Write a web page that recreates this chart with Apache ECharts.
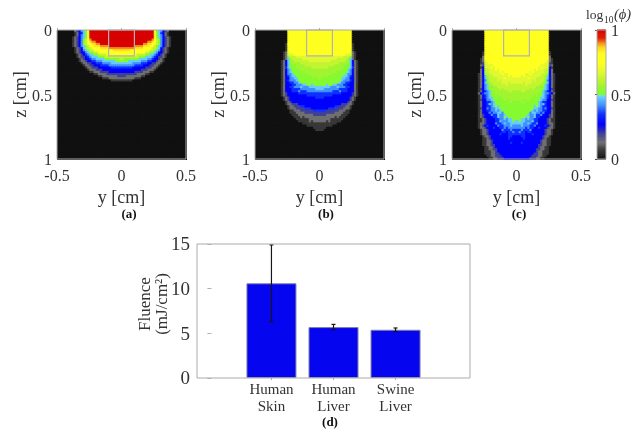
<!DOCTYPE html>
<html><head><meta charset="utf-8">
<style>html,body{margin:0;padding:0;background:#fff}#c{width:634px;height:429px}</style>
<script src="https://cdn.jsdelivr.net/npm/echarts@6/dist/echarts.min.js"></script>
</head><body><div id="c"></div>
<script>
// Log-fluence levels
const levelNames  = 'ABCDEFGHIJKLMNO';
const levelValues = [.07,.13,.2,.27,.35,.42,.48,.52,.57,.62,.67,.75,.85,.9,1];
// Each row is one depth step (1/60 cm) from the surface; runs of level+count go outward from y=0.
const rowsA = ['O15 L1 H1 G1 F1 D1 C1 B1','O15 L1 H1 G1 E1 D1 B1 A1','O15 L1 H1 G1 F1 D1 B1 A1','O15 L1 H1 G1 F1 D1 C1 B1 A1','O14 N1 L1 J1 H1 F1 D1 C1 B1 A1','O12 N2 M1 L1 J1 H1 F1 D1 C1 B1 A1','O10 N2 M2 L2 J1 H1 F1 D1 C1 B1 A1','O6 N4 M3 L2 J1 H1 G1 F1 D1 C1 B1 A1','N6 M4 L4 J2 H1 G1 D1 C1 B1 A1','M4 L9 J2 H1 G1 F1 D1 C1 B1 A1','L11 J2 H2 G1 F1 D2 C1 B1 A1','L7 J4 H2 G2 F1 E1 D1 C1 B1 A1','J8 H3 G3 F1 E1 D1 C2 B1 A1','J1 H7 G4 F2 E1 D2 C1 B1 A1','H3 G6 F3 E2 D2 C1 B2 A1','G5 F4 E3 D2 C2 B2 A1','F6 E4 D3 C2 B2 A1','E5 D6 C3 B2 A1','D9 C3 B3 A1','D6 C4 B3 A2','C7 B4 A2','C2 B7 A2','B6 A3','A5'];
const rowsB = ['L15','L15','L15','L15','L15','L15','L15 A1','L15 A1','L15 A1','L15 A1','L14 K1 B1 A1','L12 K3 B1 A1','K11 J3 H1 B1 A1','K8 J5 H1 G1 B1 A1','K5 J7 I2 G1 D1 B1 A1','J9 I4 H1 G1 D1 B1 A1','J7 I4 H3 G1 D1 B1 A1','J4 I7 H3 G1 E1 B1 A1','I10 H3 G1 F1 D1 B1 A1','I8 H5 G1 F1 D1 B1 A1','I6 H6 G1 F2 D1 B1 A1','I4 H7 G2 F1 E1 D1 B1 A1','I1 H9 G2 F2 D2 B1 A1','H10 G1 F3 E1 D1 B1 A1','H9 G1 F2 E2 D2 B1 A1','H3 G1 H2 G2 F3 E2 D3 B1 A1','G5 F3 G1 F3 E2 D2 B1 A1','G2 F7 E4 D3 B1 A1','F6 E3 F1 E3 D3 B1 A1','E10 D5 C1 B1 A1','E6 D9 C1 B1 A1','E2 D12 C1 B1 A1','D14 C1 B1 A1','D13 C1 B1 A1','D10 C3 B2 A1','D7 E2 C3 B2 A1','D4 E3 C4 B3 A1','E3 C6 B3 A2','C7 B4 A3','C3 B7 A3','B7 A1 B1 A3','B5 A6','B3 A1 B1 A5','A8','A6','A3','A2'];
const rowsC = ['L15','L15','L15','L15','L15','L15','L15','L15','L15','L15','L15 A1','L15 A1','L15 B1','L15 B1 A1','L14 K1 B1 A1','L13 K2 C1 A1','L11 K4 C1 B1','L10 K1 L1 K3 D1 A1','L8 K1 L1 K3 J2 D1 B1','L6 K1 L1 K5 J2 D1 B1','L4 K2 L1 K5 J2 I1 D1 B1 A1','L2 K1 L1 K7 J2 I1 G1 D1 B1 A1','K5 L1 K3 J4 I1 G1 D1 B1 A1','K7 J1 K1 J4 H1 F1 D1 B1 A1','K3 J1 K3 J5 I1 H1 G1 D1 B1 A1','J4 K1 J6 I2 G1 F1 D1 B1 A1','J9 I2 H2 G1 F1 D1 B1 A1','J6 I1 J1 I4 H1 G1 F1 D1 C1 A1','I2 J2 I7 H1 G1 F1 E1 D1 B1 A1','I10 H2 G1 F2 E1 D1 B1','I8 H1 I1 H2 G1 F1 E1 D1 B1 A1','I7 H4 G2 F1 E1 D1 B1 A1','I3 H1 I2 H5 G1 F2 D2 C1 A1','H2 I2 H6 G1 F1 E2 D2 B1 A1','H10 G1 F1 G1 E1 D2 B1 A1','H8 G1 H1 G1 F1 E2 D2 B1 A1','H8 G2 F2 E1 F1 D2 C1 A1','H7 G1 F1 G1 F2 E2 D2 B1 A1','H6 F1 G2 F2 E1 F1 D3 B1 A1','H5 G1 F2 G1 E2 F1 D3 C1 B1 A1','H4 G1 H1 F2 G1 E2 D4 C1 B1 A1','H2 G2 F1 G1 F2 E2 D4 C1 B1 A2','G1 H1 G2 F3 G1 E2 D4 C1 B1 A2','G3 F2 G1 F1 E2 F1 D4 C1 B2 A1','F2 G1 F3 E2 F1 D4 E1 D1 C1 B1 A1','F4 E1 F1 E2 D2 E1 D3 C1 B2 A1','E2 F1 E3 F1 D6 C1 B2 A1','E1 F1 E2 D1 E2 D6 C1 B2 A1','E4 D3 E1 D5 C1 B2 A1','D2 E2 D8 C1 B2 A1','D3 E1 D8 C1 B1 A2','D11 C1 B2 A2','D2 E1 D8 C1 B2 A2','D10 C2 B2 A2','D10 C1 B2 A2','D9 C2 B2 A2','D9 C1 B2 A3','D8 C2 B2 A3','D7 C3 B2 A2','D6 C3 B2 A2'];
const panelRows = [rowsA, rowsB, rowsC];
const panelTags = ['(a)','(b)','(c)'];
const roi = [-0.1, 0, 0.1, 0.2];
const colourStops = [[0,'#111111'],[.07,'#383838'],[.13,'#707070'],[.2,'#404098'],[.27,'#0000ff'],[.35,'#1030ff'],[.42,'#4090ff'],[.495,'#70d8ff'],[.5,'#7cfc30'],[.57,'#a0f530'],[.62,'#c0f530'],[.67,'#e0f830'],[.75,'#ffff20'],[.82,'#ffff20'],[.87,'#ffd020'],[.9,'#f09020'],[.94,'#e02000'],[1,'#d80000']];

// Bar panel
const barNames  = ['Human\nSkin','Human\nLiver','Swine\nLiver'];
const barPos    = [1,2,3];
const barValues = [10.6,5.7,5.4];
const barLow    = [6.3,5.4,5.2];
const barHigh   = [14.9,6.0,5.6];

const N = 60;
const idx = Array.from({length:N},(_,i)=>i);
function cells(rows){
  const out=[];
  idx.forEach(r=>{
    const half=new Array(N/2).fill(0);
    let c=0;
    ((rows[r]||'').match(/[A-O]\d+/g)||[]).forEach(t=>{
      const v=levelValues[levelNames.indexOf(t[0])];
      for(let k=0,n=+t.slice(1);k<n&&c<N/2;k++) half[c++]=v;
    });
    idx.forEach(i=>{
      const h=i<N/2?N/2-1-i:i-N/2;
      out.push([i/N-0.5,r/N,half[h]]);
    });
  });
  return out;
}
function hex(c){return [1,3,5].map(i=>parseInt(c.substr(i,2),16));}
function colourAt(t){
  for(let i=1;i<colourStops.length;i++){
    const [a,ca]=colourStops[i-1],[b,cb]=colourStops[i];
    if(t<=b){const f=(t-a)/(b-a),x=hex(ca),y=hex(cb);
      return 'rgb('+x.map((v,j)=>Math.round(v+(y[j]-v)*f)).join(',')+')';}
  }
  return colourStops[colourStops.length-1][1];
}
const ramp=Array.from({length:201},(_,i)=>colourAt(i/200));

const font='"Liberation Serif","Times New Roman",serif', ink='#333', edge='#ababab';
const lefts=[57,255,452];
const tagCentres=[129,326,519];
const grid=[],xAxis=[],yAxis=[],series=[],title=[];
lefts.forEach((left,k)=>{
  grid.push({left,top:30,width:129,height:129,show:true,backgroundColor:'transparent',borderColor:edge,borderWidth:1,z:10});
  xAxis.push({gridIndex:k,type:'value',min:-0.5,max:0.5,interval:0.5,position:'bottom',name:'y [cm]',nameLocation:'middle',nameGap:30,nameMoveOverlap:false,
    nameTextStyle:{fontFamily:font,fontSize:18,color:ink},splitLine:{show:false},axisLine:{show:false},
    axisTick:{inside:true,length:2,lineStyle:{color:edge}},axisLabel:{fontFamily:font,fontSize:16,color:ink,margin:10,hideOverlap:false,showMinLabel:true,showMaxLabel:true}});
  yAxis.push({gridIndex:k,type:'value',min:0,max:1,interval:0.5,inverse:true,position:'left',name:'z [cm]',nameLocation:'middle',nameGap:27,nameMoveOverlap:false,
    nameTextStyle:{fontFamily:font,fontSize:18,color:ink},splitLine:{show:false},axisLine:{show:false},
    axisTick:{inside:true,length:2,lineStyle:{color:edge}},axisLabel:{fontFamily:font,fontSize:16,color:ink,margin:5,verticalAlign:'top',lineHeight:4,hideOverlap:false,showMinLabel:true,showMaxLabel:true}});
  series.push({type:'custom',xAxisIndex:k,yAxisIndex:k,data:cells(panelRows[k]),silent:true,animation:false,progressive:0,
    encode:{x:0,y:1},
    renderItem:(p,api)=>{
      const a=api.coord([api.value(0),api.value(1)]),b=api.coord([api.value(0)+1/N,api.value(1)+1/N]);
      return {type:'rect',shape:{x:a[0],y:a[1],width:b[0]-a[0]+1,height:b[1]-a[1]+1},style:{fill:api.visual('color')}};
    }});
  title.push({text:panelTags[k],left:tagCentres[k],top:208,padding:0,textAlign:'center',textStyle:{fontFamily:font,fontSize:13,fontWeight:'bold',color:'#111'}});
});
lefts.forEach((left,k)=>{
  series.push({type:'custom',xAxisIndex:k,yAxisIndex:k,data:[roi],silent:true,clip:false,z:5,
    renderItem:(p,api)=>{
      const a=api.coord([api.value(0),api.value(1)]),b=api.coord([api.value(2),api.value(3)]);
      return {type:'rect',shape:{x:a[0],y:a[1],width:b[0]-a[0],height:b[1]-a[1]},style:{fill:'none',stroke:'#b2b2b2',lineWidth:1.2}};
    }});
});
// colour bar
grid.push({left:597,top:30,width:12,height:129,show:true,backgroundColor:'transparent',borderColor:edge,borderWidth:1,z:10});
xAxis.push({gridIndex:3,type:'value',min:0,max:1,show:false});
yAxis.push({gridIndex:3,type:'value',min:0,max:1,interval:0.5,position:'right',splitLine:{show:false},axisLine:{show:false},
  axisTick:{inside:true,length:2,lineStyle:{color:'#555'}},axisLabel:{fontFamily:font,fontSize:16,color:ink,margin:5,verticalAlign:'top',lineHeight:4,hideOverlap:false,showMinLabel:true,showMaxLabel:true}});
// bar panel
grid.push({left:197,top:244,width:273,height:134,show:true,backgroundColor:'transparent',borderColor:edge,borderWidth:1,z:10});
xAxis.push({gridIndex:4,type:'value',min:-0.2,max:4.2,position:'bottom',splitLine:{show:false},axisLine:{show:false},
  axisTick:{inside:true,length:2,customValues:barPos,lineStyle:{color:edge}},
  axisLabel:{customValues:barPos,formatter:v=>barNames[barPos.indexOf(v)]||'',fontFamily:font,fontSize:15,lineHeight:17,color:ink,margin:4,hideOverlap:false}});
xAxis.push({gridIndex:4,type:'value',min:-0.2,max:4.2,position:'top',splitLine:{show:false},axisLine:{show:false},
  axisTick:{inside:true,length:2,customValues:barPos,lineStyle:{color:edge}},axisLabel:{show:false}});
yAxis.push({gridIndex:4,type:'value',min:0,max:15,interval:5,position:'left',splitLine:{show:false},axisLine:{show:false},
  axisTick:{inside:true,length:2,lineStyle:{color:edge}},axisLabel:{fontFamily:font,fontSize:19,color:ink,margin:7,verticalAlign:'top',lineHeight:3,hideOverlap:false,showMinLabel:true,showMaxLabel:true}});
yAxis.push({gridIndex:4,type:'value',min:0,max:15,interval:5,position:'right',splitLine:{show:false},axisLine:{show:false},
  axisTick:{inside:true,length:2,lineStyle:{color:edge}},axisLabel:{show:false}});
series.push({type:'bar',xAxisIndex:4,yAxisIndex:4,barWidth:50,silent:true,data:barPos.map((x,i)=>[x,barValues[i]]),
  itemStyle:{color:'#0505f0',borderColor:'#8080a8',borderWidth:1}});
series.push({type:'custom',xAxisIndex:4,yAxisIndex:4,silent:true,z:5,data:barPos.map((x,i)=>[x,barLow[i],barHigh[i]]),
  renderItem:(p,api)=>{
    const a=api.coord([api.value(0),api.value(1)]),b=api.coord([api.value(0),api.value(2)]);
    const st={stroke:'#151515',lineWidth:1.2},cap=2;
    return {type:'group',children:[
      {type:'line',shape:{x1:a[0],y1:a[1],x2:b[0],y2:b[1]},style:st},
      {type:'line',shape:{x1:a[0]-cap,y1:a[1],x2:a[0]+cap,y2:a[1]},style:st},
      {type:'line',shape:{x1:b[0]-cap,y1:b[1],x2:b[0]+cap,y2:b[1]},style:st}]};
  }});
// colour bar ramp: one rect per scale step, coloured by the same visual map
series.push({type:'custom',xAxisIndex:3,yAxisIndex:3,silent:true,data:ramp.map((_,i)=>[0,i/200,i/200]),
  renderItem:(p,api)=>{
    const a=api.coord([0,api.value(1)+0.005]),b=api.coord([1,api.value(1)-0.005]);
    return {type:'rect',shape:{x:a[0],y:a[1],width:b[0]-a[0],height:b[1]-a[1]},style:{fill:api.visual('color')}};
  }});
title.push({text:'(d)',left:330,top:416,padding:0,textAlign:'center',textStyle:{fontFamily:font,fontSize:13,fontWeight:'bold',color:'#111'}});

const chart=echarts.init(document.getElementById('c'),null,{renderer:'canvas'});
chart.setOption({animation:false,backgroundColor:'#fff',title,grid,xAxis,yAxis,series,
  visualMap:{type:'continuous',min:0,max:1,dimension:2,seriesIndex:[0,1,2,8],inRange:{color:ramp},show:false},
  graphic:[
    {type:'text',x:154,y:304,rotation:Math.PI/2,style:{text:'Fluence\n(mJ/cm\u00b2)',fontFamily:font,fontSize:17,lineHeight:17,fill:ink,textAlign:'center',textVerticalAlign:'middle'}},
    {type:'text',x:586,y:15,style:{text:'log',fontFamily:font,fontSize:13.5,fill:ink,textVerticalAlign:'middle'}},
    {type:'text',x:604,y:20,style:{text:'10',fontFamily:font,fontSize:9.5,fill:ink,textVerticalAlign:'middle'}},
    {type:'text',x:614,y:15,style:{text:'(\u03d5)',fontFamily:font,fontSize:14.5,fontStyle:'italic',fill:ink,textVerticalAlign:'middle'}}
  ]
});
</script></body></html>
